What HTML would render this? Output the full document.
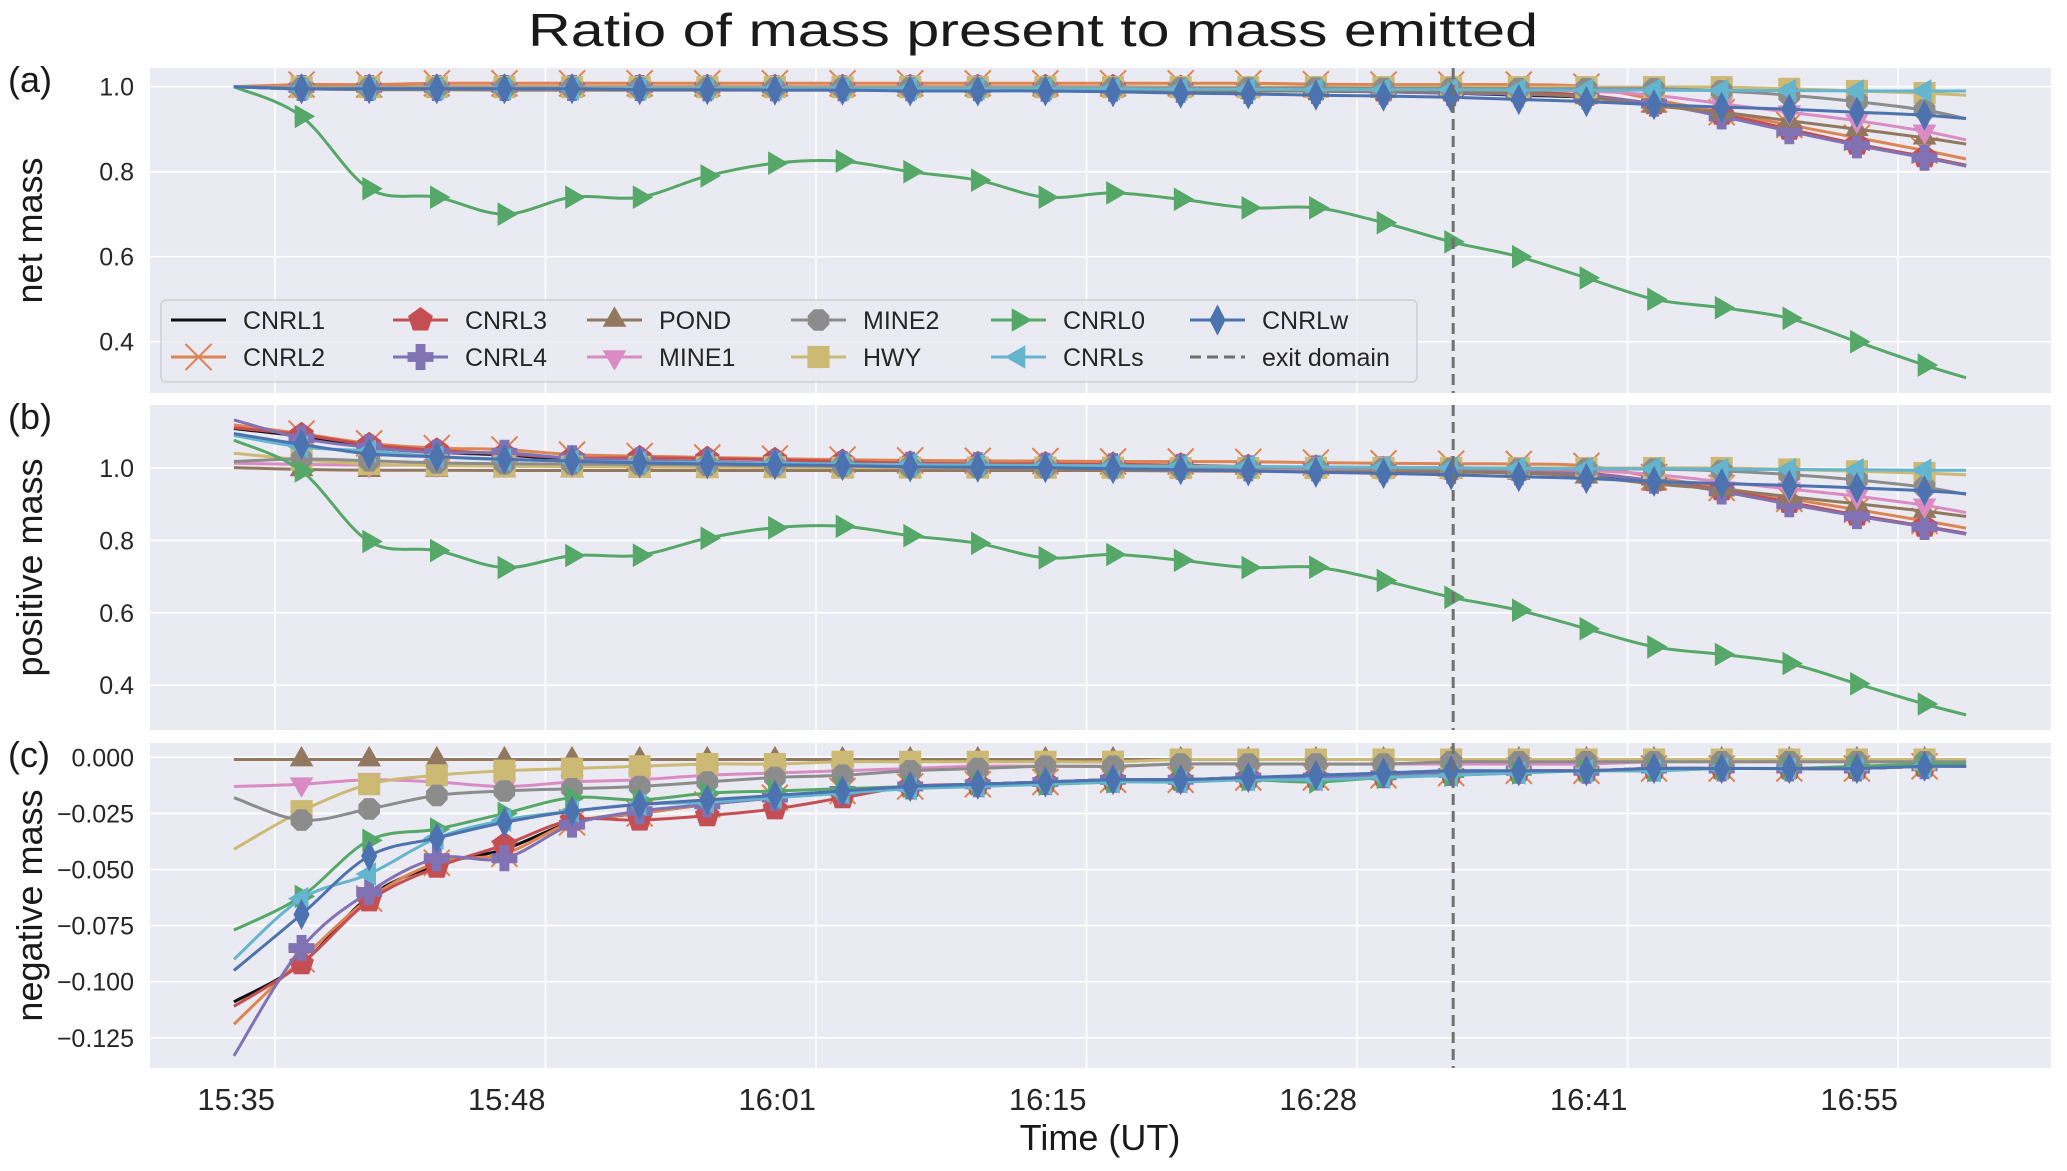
<!DOCTYPE html>
<html><head><meta charset="utf-8">
<style>
html,body{margin:0;padding:0;background:#fff;}
svg{display:block;font-family:"Liberation Sans",Arial,sans-serif;}
</style></head>
<body>
<svg id="chart" width="2067" height="1171" viewBox="0 0 2067 1171" xmlns="http://www.w3.org/2000/svg">
<text x="1033" y="46" font-size="46" text-anchor="middle" textLength="1010" lengthAdjust="spacingAndGlyphs" fill="#1a1a1a">Ratio of mass present to mass emitted</text>
<g id="panels"></g>
<text x="1100" y="1150" font-size="36" text-anchor="middle" fill="#1a1a1a">Time (UT)</text>
</svg>
<script>
// ---- data ----
const sampleTimes = [-2.05,1.325,4.7,8.075,11.45,14.825,18.2,21.575,24.95,28.325,31.7,35.075,38.45,41.825,45.2,48.575,51.95,55.325,58.7,62.075,65.45,68.825,72.2,75.575,78.95,82.325,84.4];
const tickMinutes = [0,13.5,27,40.5,54,67.5,81];
const tickLabels = ["15:35","15:48","16:01","16:15","16:28","16:41","16:55"];
const exitDomainMinute = 58.8;
const seriesNames = ["CNRL1","CNRL2","CNRL3","CNRL4","POND","MINE1","HWY","MINE2","CNRL0","CNRLs","CNRLw"];

const net_CNRL1 = [1.0,0.995,0.995,0.995,0.995,0.995,0.995,0.995,0.995,0.995,0.995,0.995,0.995,0.995,0.993,0.99,0.99,0.988,0.985,0.98,0.975,0.96,0.935,0.90,0.865,0.835,0.815];
const net_CNRL2 = [1.0,1.005,1.005,1.008,1.008,1.008,1.008,1.008,1.008,1.008,1.008,1.008,1.008,1.008,1.008,1.008,1.006,1.005,1.005,1.005,1.0,0.97,0.94,0.91,0.88,0.85,0.83];
const net_CNRL3 = [1.0,1.0,1.0,1.0,1.0,1.0,1.0,1.0,1.0,1.0,1.0,1.0,1.0,1.0,0.998,0.995,0.993,0.99,0.99,0.988,0.98,0.96,0.935,0.90,0.865,0.835,0.815];
const net_CNRL4 = [1.0,0.997,0.997,0.997,0.997,0.997,0.997,0.996,0.996,0.996,0.996,0.996,0.995,0.995,0.993,0.99,0.99,0.988,0.985,0.982,0.977,0.96,0.93,0.895,0.862,0.833,0.813];
const net_POND = [1.0,0.995,0.993,0.993,0.992,0.992,0.992,0.992,0.992,0.992,0.992,0.992,0.992,0.992,0.991,0.99,0.99,0.99,0.988,0.985,0.975,0.955,0.94,0.92,0.90,0.88,0.865];
const net_MINE1 = [1.0,0.998,0.998,0.998,0.998,0.998,0.998,0.998,0.998,0.998,0.998,0.998,0.998,0.998,0.997,0.996,0.995,0.995,0.995,0.993,0.99,0.98,0.96,0.94,0.92,0.895,0.875];
const net_HWY = [1.0,0.999,0.999,0.999,0.999,0.999,0.999,0.999,0.999,0.999,0.999,0.999,0.999,0.999,0.999,0.999,0.999,0.999,0.999,0.999,0.999,0.999,0.999,0.995,0.99,0.985,0.98];
const net_MINE2 = [1.0,0.997,0.997,0.997,0.997,0.997,0.997,0.997,0.997,0.997,0.997,0.997,0.997,0.997,0.997,0.997,0.997,0.996,0.996,0.995,0.995,0.995,0.99,0.98,0.965,0.945,0.925];
const net_CNRL0 = [1.0,0.93,0.76,0.74,0.70,0.74,0.74,0.79,0.82,0.825,0.80,0.78,0.74,0.75,0.735,0.715,0.715,0.68,0.635,0.60,0.55,0.50,0.48,0.455,0.40,0.345,0.315];
const net_CNRLs = [1.0,0.995,0.995,0.995,0.995,0.995,0.995,0.995,0.995,0.995,0.995,0.995,0.995,0.995,0.994,0.994,0.993,0.993,0.993,0.992,0.992,0.992,0.991,0.991,0.99,0.99,0.99];
const net_CNRLw = [1.0,0.995,0.995,0.995,0.995,0.995,0.993,0.993,0.992,0.992,0.99,0.99,0.99,0.988,0.985,0.983,0.98,0.978,0.975,0.97,0.965,0.958,0.952,0.947,0.94,0.933,0.925];

const pos_CNRL1 = [1.109,1.087,1.057,1.043,1.036,1.024,1.020,1.016,1.013,1.010,1.008,1.007,1.006,1.005,1.003,0.999,0.999,0.996,0.992,0.986,0.981,0.965,0.940,0.905,0.870,0.839,0.819];
const pos_CNRL2 = [1.119,1.095,1.068,1.055,1.051,1.037,1.033,1.029,1.026,1.023,1.021,1.020,1.019,1.018,1.018,1.017,1.015,1.013,1.012,1.011,1.006,0.975,0.945,0.915,0.885,0.854,0.834];
const pos_CNRL3 = [1.111,1.092,1.064,1.049,1.039,1.028,1.028,1.026,1.023,1.018,1.013,1.012,1.011,1.010,1.008,1.004,1.002,0.998,0.997,0.994,0.986,0.965,0.940,0.905,0.870,0.839,0.819];
const pos_CNRL4 = [1.133,1.082,1.057,1.042,1.042,1.027,1.021,1.017,1.014,1.011,1.009,1.008,1.006,1.005,1.003,0.999,0.999,0.996,0.992,0.988,0.983,0.965,0.935,0.900,0.867,0.837,0.817];
const pos_POND = [1.001,0.996,0.994,0.994,0.993,0.993,0.993,0.993,0.993,0.993,0.993,0.993,0.993,0.993,0.992,0.991,0.991,0.991,0.989,0.986,0.976,0.956,0.941,0.921,0.901,0.881,0.866];
const pos_MINE1 = [1.013,1.010,1.008,1.009,1.011,1.009,1.008,1.006,1.005,1.004,1.003,1.002,1.002,1.002,1.000,0.999,0.998,0.998,0.998,0.996,0.993,0.982,0.962,0.942,0.922,0.897,0.877];
const pos_HWY = [1.041,1.023,1.011,1.007,1.005,1.004,1.003,1.002,1.002,1.001,1.001,1.001,1.001,1.001,1.0,1.0,1.0,1.0,1.0,1.0,1.0,1.0,1.0,0.996,0.991,0.986,0.981];
const pos_MINE2 = [1.018,1.025,1.020,1.014,1.012,1.011,1.010,1.008,1.006,1.005,1.003,1.002,1.001,1.001,1.0,1.0,1.0,0.999,0.998,0.997,0.997,0.997,0.992,0.982,0.967,0.947,0.927];
const pos_CNRL0 = [1.077,0.992,0.797,0.772,0.725,0.758,0.759,0.806,0.835,0.839,0.813,0.792,0.752,0.761,0.745,0.725,0.726,0.689,0.643,0.607,0.556,0.506,0.485,0.460,0.404,0.348,0.318];
const pos_CNRLs = [1.09,1.058,1.047,1.031,1.023,1.019,1.016,1.015,1.013,1.011,1.009,1.008,1.007,1.006,1.005,1.004,1.003,1.002,1.001,0.999,0.998,0.998,0.996,0.996,0.995,0.994,0.994];
const pos_CNRLw = [1.095,1.065,1.039,1.031,1.024,1.019,1.014,1.012,1.009,1.007,1.003,1.002,1.001,0.998,0.995,0.992,0.988,0.985,0.981,0.976,0.971,0.963,0.957,0.952,0.945,0.937,0.929];

const neg_CNRL1 = [-0.109,-0.092,-0.062,-0.048,-0.041,-0.029,-0.025,-0.021,-0.018,-0.015,-0.013,-0.012,-0.011,-0.010,-0.010,-0.009,-0.009,-0.008,-0.007,-0.006,-0.006,-0.005,-0.005,-0.005,-0.005,-0.004,-0.004];
const neg_CNRL2 = [-0.119,-0.090,-0.063,-0.047,-0.043,-0.029,-0.025,-0.021,-0.018,-0.015,-0.013,-0.012,-0.011,-0.010,-0.010,-0.009,-0.009,-0.008,-0.007,-0.006,-0.006,-0.005,-0.005,-0.005,-0.005,-0.004,-0.004];
const neg_CNRL3 = [-0.111,-0.092,-0.064,-0.049,-0.039,-0.028,-0.028,-0.026,-0.023,-0.018,-0.013,-0.012,-0.011,-0.010,-0.010,-0.009,-0.009,-0.008,-0.007,-0.006,-0.006,-0.005,-0.005,-0.005,-0.005,-0.004,-0.004];
const neg_CNRL4 = [-0.133,-0.085,-0.060,-0.045,-0.045,-0.030,-0.024,-0.021,-0.018,-0.015,-0.013,-0.012,-0.011,-0.010,-0.010,-0.009,-0.009,-0.008,-0.007,-0.006,-0.006,-0.005,-0.005,-0.005,-0.005,-0.004,-0.004];
const neg_POND = [-0.001,-0.001,-0.001,-0.001,-0.001,-0.001,-0.001,-0.001,-0.001,-0.001,-0.001,-0.001,-0.001,-0.001,-0.001,-0.001,-0.001,-0.001,-0.001,-0.001,-0.001,-0.001,-0.001,-0.001,-0.001,-0.001,-0.001];
const neg_MINE1 = [-0.013,-0.012,-0.010,-0.011,-0.013,-0.011,-0.010,-0.008,-0.007,-0.006,-0.005,-0.004,-0.004,-0.004,-0.003,-0.003,-0.003,-0.003,-0.003,-0.003,-0.003,-0.002,-0.002,-0.002,-0.002,-0.002,-0.002];
const neg_HWY = [-0.041,-0.024,-0.012,-0.008,-0.006,-0.005,-0.004,-0.003,-0.003,-0.002,-0.002,-0.002,-0.002,-0.002,-0.001,-0.001,-0.001,-0.001,-0.001,-0.001,-0.001,-0.001,-0.001,-0.001,-0.001,-0.001,-0.001];
const neg_MINE2 = [-0.018,-0.028,-0.023,-0.017,-0.015,-0.014,-0.013,-0.011,-0.009,-0.008,-0.006,-0.005,-0.004,-0.004,-0.003,-0.003,-0.003,-0.003,-0.002,-0.002,-0.002,-0.002,-0.002,-0.002,-0.002,-0.002,-0.002];
const neg_CNRL0 = [-0.077,-0.062,-0.037,-0.032,-0.025,-0.018,-0.019,-0.016,-0.015,-0.014,-0.013,-0.012,-0.012,-0.011,-0.010,-0.010,-0.011,-0.009,-0.008,-0.007,-0.006,-0.006,-0.005,-0.005,-0.004,-0.003,-0.003];
const neg_CNRLs = [-0.09,-0.063,-0.052,-0.036,-0.028,-0.024,-0.021,-0.020,-0.018,-0.016,-0.014,-0.013,-0.012,-0.011,-0.011,-0.010,-0.010,-0.009,-0.008,-0.007,-0.006,-0.006,-0.005,-0.005,-0.005,-0.004,-0.004];
const neg_CNRLw = [-0.095,-0.070,-0.044,-0.036,-0.029,-0.024,-0.021,-0.019,-0.017,-0.015,-0.013,-0.012,-0.011,-0.010,-0.010,-0.009,-0.008,-0.007,-0.006,-0.006,-0.006,-0.005,-0.005,-0.005,-0.005,-0.004,-0.004];

const yTicksNet = [0.4,0.6,0.8,1.0];
const yTicksPos = [0.4,0.6,0.8,1.0];
const yTicksNeg = [-0.125,-0.100,-0.075,-0.050,-0.025,0.000];

// ---- styles ----
const colors = {CNRL1:"#111111",CNRL2:"#DD8452",CNRL3:"#C44E52",CNRL4:"#8172B3",POND:"#937860",MINE1:"#DA8BC3",HWY:"#CCB974",MINE2:"#8C8C8C",CNRL0:"#55A868",CNRLs:"#64B5CD",CNRLw:"#4C72B0"};
const markers = {CNRL1:"none",CNRL2:"x",CNRL3:"pentagon",CNRL4:"plus",POND:"tri-up",MINE1:"tri-down",HWY:"square",MINE2:"octagon",CNRL0:"tri-right",CNRLs:"tri-left",CNRLw:"thin-diamond"};

const NS="http://www.w3.org/2000/svg";
const root=document.getElementById('panels');
const X0=150, X1=2051;
const MR=13;
function xScale(m){return 275 + m*20.037;}

function el(tag,attrs,parent){const e=document.createElementNS(NS,tag);for(const k in attrs)e.setAttribute(k,attrs[k]);(parent||root).appendChild(e);return e;}

function pathFrom(pts){
  let d="M"+pts[0][0].toFixed(1)+","+pts[0][1].toFixed(1);
  for(let i=0;i<pts.length-1;i++){
    const p0=pts[Math.max(0,i-1)],p1=pts[i],p2=pts[i+1],p3=pts[Math.min(pts.length-1,i+2)];
    const c1x=p1[0]+(p2[0]-p0[0])/6,c1y=p1[1]+(p2[1]-p0[1])/6;
    const c2x=p2[0]-(p3[0]-p1[0])/6,c2y=p2[1]-(p3[1]-p1[1])/6;
    d+=" C"+c1x.toFixed(1)+","+c1y.toFixed(1)+" "+c2x.toFixed(1)+","+c2y.toFixed(1)+" "+p2[0].toFixed(1)+","+p2[1].toFixed(1);
  }
  return d;
}

function markerShape(type,x,y,color,parent,r){
  let e;
  const poly=(pts)=>el('polygon',{points:pts.map(p=>(x+p[0]).toFixed(1)+","+(y+p[1]).toFixed(1)).join(" "),fill:color},parent);
  const reg=(n,rot,rr)=>{const a=[];for(let i=0;i<n;i++){const t=rot+i*2*Math.PI/n;a.push([rr*Math.cos(t),rr*Math.sin(t)]);}return a;};
  switch(type){
    case "x": e=el('path',{d:`M${x-r},${y-r}L${x+r},${y+r}M${x-r},${y+r}L${x+r},${y-r}`,stroke:color,'stroke-width':2,fill:'none'},parent);break;
    case "pentagon": e=poly(reg(5,-Math.PI/2,r));break;
    case "plus": {const w=r*0.38;e=poly([[-w,-r],[w,-r],[w,-w],[r,-w],[r,w],[w,w],[w,r],[-w,r],[-w,w],[-r,w],[-r,-w],[-w,-w]]);break;}
    case "tri-up": e=poly(reg(3,-Math.PI/2,r*1.05));break;
    case "tri-down": e=poly(reg(3,Math.PI/2,r*1.05));break;
    case "tri-right": e=poly(reg(3,0,r*1.05));break;
    case "tri-left": e=poly(reg(3,Math.PI,r*1.05));break;
    case "square": e=el('rect',{x:x-r*0.85,y:y-r*0.85,width:r*1.7,height:r*1.7,fill:color},parent);break;
    case "octagon": e=poly(reg(8,Math.PI/8,r*0.9));break;
    case "thin-diamond": e=poly([[0,-r*1.2],[r*0.62,0],[0,r*1.2],[-r*0.62,0]]);break;
  }
  return e;
}

const panels=[
 {id:"a",label:"(a)",ytitle:"net mass",top:68,bottom:393,v0:1.0,p0:86.7,pxPer:425,ticks:yTicksNet,fmt:v=>v.toFixed(1),
  data:{CNRL1:net_CNRL1,CNRL2:net_CNRL2,CNRL3:net_CNRL3,CNRL4:net_CNRL4,POND:net_POND,MINE1:net_MINE1,HWY:net_HWY,MINE2:net_MINE2,CNRL0:net_CNRL0,CNRLs:net_CNRLs,CNRLw:net_CNRLw}},
 {id:"b",label:"(b)",ytitle:"positive mass",top:405,bottom:730,v0:1.0,p0:468,pxPer:362,ticks:yTicksPos,fmt:v=>v.toFixed(1),
  data:{CNRL1:pos_CNRL1,CNRL2:pos_CNRL2,CNRL3:pos_CNRL3,CNRL4:pos_CNRL4,POND:pos_POND,MINE1:pos_MINE1,HWY:pos_HWY,MINE2:pos_MINE2,CNRL0:pos_CNRL0,CNRLs:pos_CNRLs,CNRLw:pos_CNRLw}},
 {id:"c",label:"(c)",ytitle:"negative mass",top:743,bottom:1068,v0:0.0,p0:757.3,pxPer:2244,ticks:yTicksNeg,fmt:v=>(v<0?"\u2212":"")+Math.abs(v).toFixed(3),
  data:{CNRL1:neg_CNRL1,CNRL2:neg_CNRL2,CNRL3:neg_CNRL3,CNRL4:neg_CNRL4,POND:neg_POND,MINE1:neg_MINE1,HWY:neg_HWY,MINE2:neg_MINE2,CNRL0:neg_CNRL0,CNRLs:neg_CNRLs,CNRLw:neg_CNRLw}}
];

panels.forEach(P=>{
  const yScale=v=>P.p0-(v-P.v0)*P.pxPer;
  const g=el('g',{});
  
  
  const bg=el('rect',{x:X0,y:P.top,width:X1-X0,height:P.bottom-P.top,fill:'#eaeaf2'},g);
  
  
  const clipId='clip'+P.id;
  const cp=el('clipPath',{id:clipId},g);el('rect',{x:X0,y:P.top,width:X1-X0,height:P.bottom-P.top},cp);
  P.ticks.forEach(v=>{
    const y=yScale(v);
    const gl=el('line',{x1:X0,x2:X1,y1:y,y2:y,stroke:'#fff','stroke-width':1.6},g);
    
    
    const t=el('text',{x:134,y:y+9,'font-size':25,'text-anchor':'end',fill:'#262626'},g);
    t.textContent=P.fmt(v);
    
    
  });
  tickMinutes.forEach((m,i)=>{
    const x=xScale(m);
    const gl=el('line',{x1:x,x2:x,y1:P.top,y2:P.bottom,stroke:'#fff','stroke-width':1.6},g);
    
    
    if(P.id==="c"){
      const t=el('text',{x:x,y:1110,'font-size':31,'text-anchor':'end',fill:'#262626'},g);
      t.textContent=tickLabels[i];
      
      
    }
  });
  const cy=(P.top+P.bottom)/2;
  const yt=el('text',{x:0,y:0,'font-size':36,'text-anchor':'middle',fill:'#1a1a1a',transform:`translate(42,${cy}) rotate(-90)`},g);
  yt.textContent=P.ytitle;
  
  
  const pl=el('text',{x:8,y:P.top+24,'font-size':36,fill:'#1a1a1a'},g);
  pl.textContent=P.label;
  
  

  const sg=el('g',{'clip-path':`url(#${clipId})`},g);
  seriesNames.forEach(name=>{
    const vals=P.data[name];
    const pts=vals.map((v,i)=>[xScale(sampleTimes[i]),yScale(v)]);
    const line=el('path',{d:pathFrom(pts),fill:'none',stroke:colors[name],'stroke-width':3,'stroke-linejoin':'round'},sg);
    
    
    if(markers[name]!=="none"){
      for(let i=1;i<vals.length-1;i++){
        const mk=markerShape(markers[name],pts[i][0],pts[i][1],colors[name],sg,MR);
        
        
      }
    }
  });
  const ex=el('line',{x1:xScale(exitDomainMinute),x2:xScale(exitDomainMinute),y1:P.top,y2:P.bottom,stroke:'#707070','stroke-width':3,'stroke-dasharray':'11,6'},g);
  
  
});

// legend
const lg=el('g',{});


el('rect',{x:161,y:300,width:1256,height:82,rx:5,fill:'#eaeaf2','fill-opacity':0.85,stroke:'#cccccc','stroke-width':1.3},lg);
const legendCols=[171,393,587,791,991,1190];
const legendItems=["CNRL1","CNRL2","CNRL3","CNRL4","POND","MINE1","MINE2","HWY","CNRL0","CNRLs","CNRLw","exit domain"];
legendItems.forEach((name,i)=>{
  const col=Math.floor(i/2),row=i%2;
  const x=legendCols[col],y=row?357:320;
  const eg=el('g',{},lg);
  
  
  if(name==="exit domain"){
    el('line',{x1:x,x2:x+55,y1:y,y2:y,stroke:'#707070','stroke-width':3,'stroke-dasharray':'11,6'},eg);
  } else {
    el('line',{x1:x,x2:x+55,y1:y,y2:y,stroke:colors[name],'stroke-width':3},eg);
    if(markers[name]!=="none") markerShape(markers[name],x+27.5,y,colors[name],eg,MR);
  }
  const t=el('text',{x:x+72,y:y+9,'font-size':25,fill:'#262626'},eg);
  t.textContent=name;
});
</script>
</body></html>
